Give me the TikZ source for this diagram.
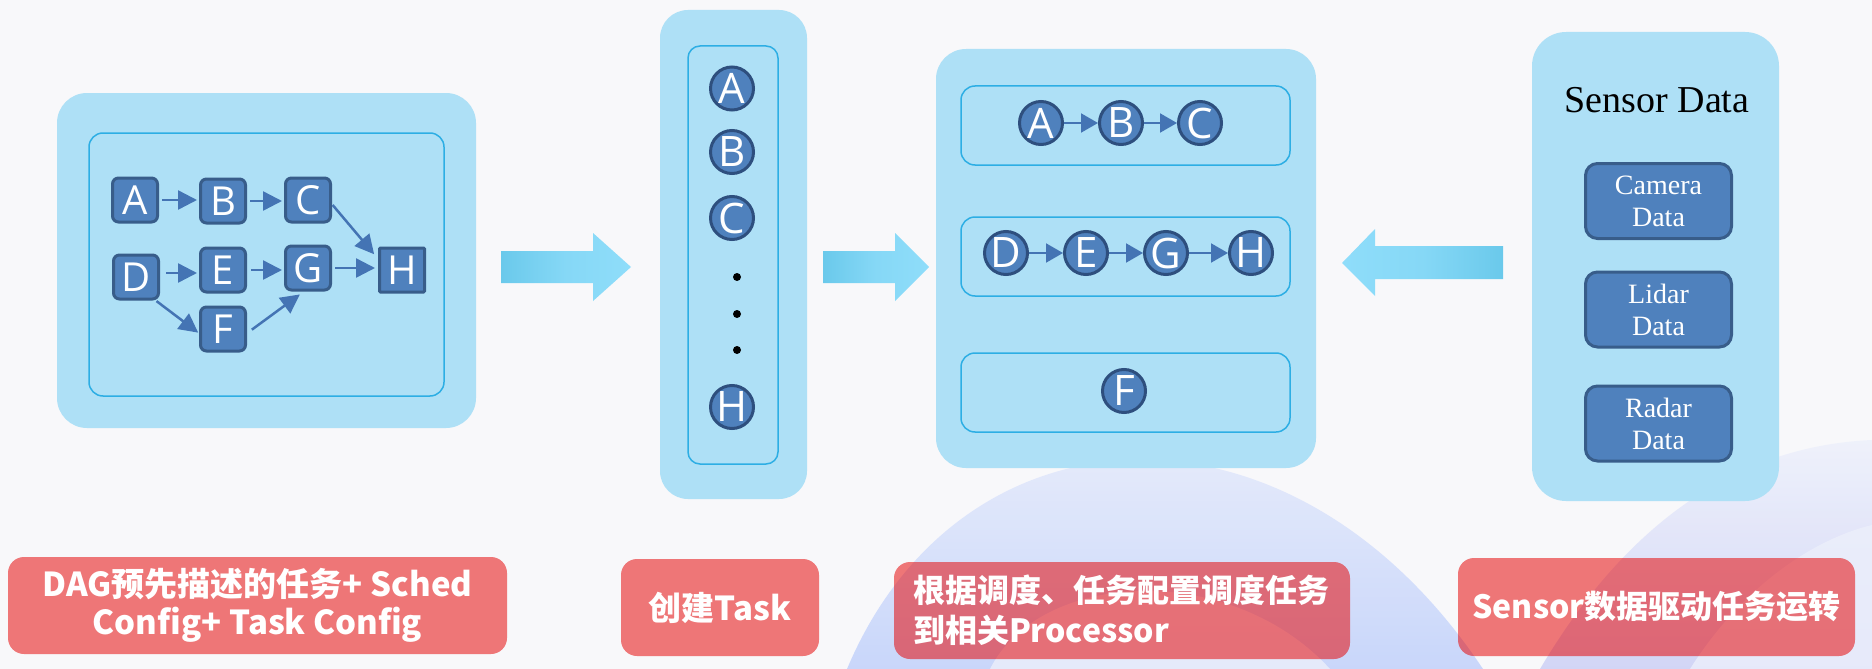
\documentclass[tikz,border=0pt]{standalone}
\usepackage{fontspec}
\newfontfamily\lettersf{Open Sans}
\newfontfamily\serifsf{Liberation Serif}
\newfontfamily\cjk{Noto Sans CJK SC}
\usetikzlibrary{arrows.meta}
\definecolor{bg}{RGB}{248,248,250}
\definecolor{panel}{RGB}{174,224,246}
\definecolor{panelline}{RGB}{45,174,228}
\definecolor{nodefill}{RGB}{79,129,189}
\definecolor{nodeline}{RGB}{56,93,138}
\definecolor{ringline}{RGB}{46,79,126}
\definecolor{arrowc}{RGB}{68,116,180}
\definecolor{labelred}{RGB}{230,0,0}
\definecolor{bigdark}{RGB}{106,201,235}
\definecolor{biglight}{RGB}{143,221,250}
\definecolor{archblue}{RGB}{196,211,250}
\definecolor{archpale}{RGB}{238,241,251}
\definecolor{archinner}{RGB}{236,239,251}
\definecolor{archlav}{RGB}{206,210,246}
\begin{document}
\begin{tikzpicture}[x=1pt,y=-1pt,
  panelbox/.style={fill=panel, draw=none, rounded corners=30pt, inner sep=0pt},
  innerbox/.style={fill=panel, draw=panelline, line width=1.5pt, rounded corners=14pt, inner sep=0pt},
  sqnode/.style={fill=nodefill, draw=nodeline, line width=3pt, rounded corners=6pt,
    minimum width=45pt, minimum height=44pt, inner sep=-4pt, text=white,
    font=\lettersf\fontsize{40}{40}\selectfont},
  circnode/.style={circle, fill=nodefill, draw=ringline, line width=3pt, minimum size=43pt,
    inner sep=-5pt, text=white, font=\lettersf\fontsize{42}{42}\selectfont},
  dotnode/.style={circle, fill=black, inner sep=0pt, minimum size=8pt},
  dagarrow/.style={-{Triangle[length=19pt,width=19pt]}, draw=arrowc, line width=2.5pt},
  ringarrow/.style={-{Triangle[length=17pt,width=19pt]}, draw=arrowc, line width=2pt},
  sensbox/.style={fill=nodefill, draw=nodeline, line width=3pt, rounded corners=12pt,
    minimum width=146pt, minimum height=75pt, inner sep=0pt, text=white, align=center,
    font=\serifsf\fontsize{28}{32}\selectfont},
  labelbox/.style={fill=labelred, fill opacity=0.52, text opacity=1, rounded corners=16pt,
    text=white, inner sep=0pt, font=\cjk\bfseries\fontsize{32}{40}\selectfont}
]
\useasboundingbox (0,0) rectangle (1872,669);
\fill[bg] (0,0) rectangle (1872,669);
% decorative background arches
\begin{scope}
\clip (0,0) rectangle (1872,669);
\shade[top color=archpale, bottom color=archblue, opacity=0.9]
  (847,669) .. controls (960,400) and (1290,380) .. (1483,669) -- cycle;
\fill[archinner, opacity=0.8]
  (990,669) .. controls (1040,570) and (1230,560) .. (1330,669) -- cycle;
\shade[top color=archpale, bottom color=archlav, opacity=0.9]
  (1540,669) .. controls (1640,500) and (1760,445) .. (1872,440) -- (1872,669) -- cycle;
\fill[archinner, opacity=0.8]
  (1690,669) .. controls (1740,590) and (1810,540) .. (1872,525) -- (1872,669) -- cycle;
\end{scope}

% panels
\node[panelbox, minimum width=419pt, minimum height=335pt] (P1) at (266.5,260.5) {};
\node[innerbox, minimum width=355pt, minimum height=263pt] (P1i) at (266.5,264.5) {};
\node[panelbox, minimum width=147pt, minimum height=489pt, rounded corners=28pt] (P2) at (733.5,254.5) {};
\node[innerbox, minimum width=90pt, minimum height=418pt, rounded corners=12pt] (P2i) at (733,255) {};
\node[panelbox, minimum width=380pt, minimum height=419pt] (P3) at (1126,258.5) {};
\node[innerbox, minimum width=329pt, minimum height=79pt] (R1) at (1125.5,125.5) {};
\node[innerbox, minimum width=329pt, minimum height=79pt] (R2) at (1125.5,256.5) {};
\node[innerbox, minimum width=329pt, minimum height=79pt] (R3) at (1125.5,392.5) {};
\node[panelbox, minimum width=247pt, minimum height=469pt, rounded corners=34pt] (P4) at (1655.5,266.5) {};

% block arrows
\shade[left color=bigdark, right color=biglight, middle color=biglight!75!bigdark]
  (501,251) -- (593,251) -- (593,233) -- (631,267) -- (593,301) -- (593,283) -- (501,283) -- cycle;
\shade[left color=bigdark, right color=biglight, middle color=biglight!75!bigdark]
  (823,251) -- (895,251) -- (895,233) -- (929,267) -- (895,301) -- (895,283) -- (823,283) -- cycle;
\shade[left color=biglight, right color=bigdark, middle color=biglight!75!bigdark]
  (1503,246) -- (1375,246) -- (1375,229) -- (1342,263) -- (1375,296) -- (1375,279) -- (1503,279) -- cycle;

% DAG
\node[sqnode] (A1) at (135,200) {A};
\node[sqnode] (B1) at (223,201) {B};
\node[sqnode] (C1) at (308,200) {C};
\node[sqnode] (D1) at (136,277) {D};
\node[sqnode] (E1) at (223,270) {E};
\node[sqnode] (G1) at (308,268) {G};
\node[sqnode] (F1) at (223,329) {F};
\node[sqnode, rounded corners=1pt] (H1) at (402,270) {H};
\draw[dagarrow, shorten <=3pt, shorten >=2pt] (A1.east) -- (A1.east -| B1.west);
\draw[dagarrow, shorten <=3pt, shorten >=2pt] (B1.east) -- (B1.east -| C1.west);
\draw[dagarrow, shorten <=6pt, shorten >=2pt] ([yshift=4pt]D1.east) -- ([yshift=4pt]D1.east -| E1.west);
\draw[dagarrow, shorten <=4pt, shorten >=2pt] (E1.east) -- (E1.east -| G1.west);
\draw[dagarrow, shorten <=3pt, shorten >=3pt] (G1.east) -- (G1.east -| H1.west);
\draw[dagarrow, shorten <=1pt, shorten >=6pt] (C1.-10) -- (H1.155);
\draw[dagarrow, shorten <=1pt, shorten >=1pt] (D1.-50) -- (F1.190);
\draw[dagarrow, shorten <=6pt, shorten >=5pt] (F1.-10) -- (G1.-100);

% task list
\node[circnode] (A2) at (732,88.5) {A};
\node[circnode] (B2) at (732,152) {B};
\node[circnode] (C2) at (732,218) {C};
\node[dotnode] (d1) at (737,277) {};
\node[dotnode] (d2) at (737,314) {};
\node[dotnode] (d3) at (737,350) {};
\node[circnode] (H2) at (732,407) {H};

% processors
\node[circnode] (A3) at (1041,123) {A};
\node[circnode] (B3) at (1121,123) {B};
\node[circnode] (C3) at (1200,123) {C};
\draw[ringarrow] (A3) -- (B3);
\draw[ringarrow] (B3) -- (C3);
\node[circnode] (D3) at (1006,253) {D};
\node[circnode] (E3) at (1086,253) {E};
\node[circnode] (G3) at (1166,253) {G};
\node[circnode] (H3) at (1251,253) {H};
\draw[ringarrow] (D3) -- (E3);
\draw[ringarrow] (E3) -- (G3);
\draw[ringarrow] (G3) -- (H3);
\node[circnode] (F3) at (1124,391) {F};

% sensor data
\node[font=\serifsf\fontsize{38}{38}\selectfont] (SD) at (1657,100) {Sensor Data};
\node[sensbox] (cam) at (1658.5,201) {Camera\\Data};
\node[sensbox] (lid) at (1658.5,309.5) {Lidar\\Data};
\node[sensbox] (rad) at (1658.5,423.5) {Radar\\Data};

% labels
\node[labelbox, minimum width=499pt, minimum height=97pt, align=center,
  font=\cjk\bfseries\fontsize{33}{38}\selectfont] (L1) at (257.5,605.5)
  {DAG预先描述的任务+ Sched\\Config+ Task Config};
\node[labelbox, minimum width=198pt, minimum height=97pt,
  font=\cjk\bfseries\fontsize{33}{40}\selectfont] (L2) at (720,607.5) {创建Task};
\node[labelbox, minimum width=456pt, minimum height=97pt, text width=418pt, align=left] (L3)
  at (1122,610.5) {根据调度、任务配置调度任务\\到相关Processor};
\node[labelbox, minimum width=397pt, minimum height=98pt] (L4) at (1656.5,607) {Sensor数据驱动任务运转};
\end{tikzpicture}
\end{document}
